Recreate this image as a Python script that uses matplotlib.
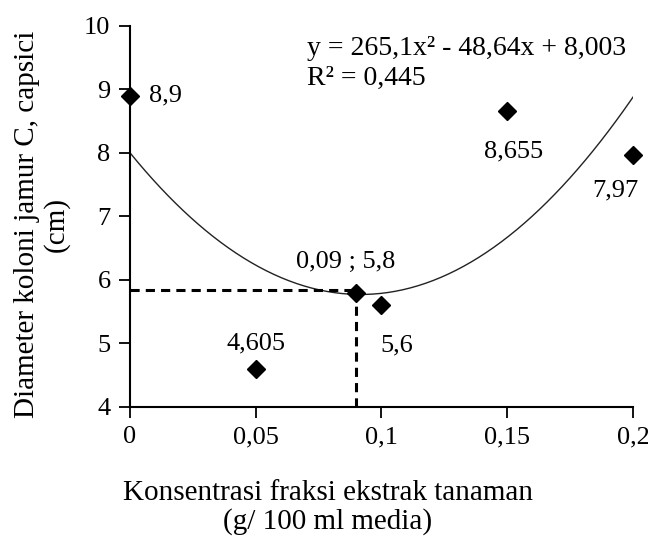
import numpy as np
import matplotlib
matplotlib.use("Agg")
import matplotlib.pyplot as plt

plt.rcParams['font.family'] = ['Liberation Serif', 'DejaVu Serif']

# data
konsentrasi = [0, 0.05, 0.09, 0.1, 0.15, 0.2]
diameter = [8.9, 4.605, 5.8, 5.6, 8.655, 7.97]
point_labels = ['8,9', '4,605', '0,09 ; 5,8', '5,6', '8,655', '7,97']
label_offsets = [(36, 0), (0, 25), (-11, 31), (15, -40), (6, -40), (-18, -36)]  # pixels

# trendline coefficients (a x^2 + b x + c)
coef = [265.1, -48.64, 8.003]
opt_x, opt_y = 0.09, 5.85

xticks = [0, 0.05, 0.1, 0.15, 0.2]
xtick_labels = ['0', '0,05', '0,1', '0,15', '0,2']
yticks = [4, 5, 6, 7, 8, 9, 10]

fig = plt.figure(figsize=(6.48, 5.41), dpi=100)
ax = fig.add_axes([0.2006, 0.2477, 0.7762, 0.7043])

xs = np.linspace(0, 0.2, 200)
ax.plot(xs, np.polyval(coef, xs), color='#222222', lw=1.0)

# dashed guide lines to the optimum
ax.plot([0, opt_x], [opt_y, opt_y], color='black', lw=2.2, ls=(0, (3, 2)))
ax.plot([opt_x, opt_x], [4, opt_y], color='black', lw=2.2, ls=(0, (3, 2)))

ax.plot(konsentrasi, diameter, ls='none', marker='D', color='black',
        markersize=9, clip_on=False, zorder=5)

for x, y, lab, off in zip(konsentrasi, diameter, point_labels, label_offsets):
    ax.annotate(lab, (x, y), xytext=off, textcoords='offset pixels',
                ha='center', va='center', fontsize=19)

fig.text(307 / 648, 1 - 55 / 541, 'y = 265,1x² - 48,64x + 8,003',
         ha='left', va='baseline', fontsize=20)
fig.text(307 / 648, 1 - 85 / 541, 'R² = 0,445',
         ha='left', va='baseline', fontsize=20)

ax.set_xlim(0, 0.2)
ax.set_ylim(4, 10)
ax.set_xticks(xticks)
ax.set_xticklabels(xtick_labels)
ax.set_yticks(yticks)
ax.tick_params(direction='out', length=8, width=1.3, labelsize=19, pad=6)

for s in ['top', 'right']:
    ax.spines[s].set_visible(False)
for s in ['left', 'bottom']:
    ax.spines[s].set_linewidth(1.5)

# axis titles, one line at a time
fig.text(328 / 648, 1 - 500 / 541, 'Konsentrasi fraksi ekstrak tanaman',
         ha='center', va='baseline', fontsize=21)
fig.text(328 / 648, 1 - 529 / 541, '(g/ 100 ml media)',
         ha='center', va='baseline', fontsize=21)
fig.text(34 / 648, 1 - 224 / 541, 'Diameter koloni jamur C, capsici',
         ha='center', va='baseline', rotation=90, fontsize=21,
         rotation_mode='anchor')
fig.text(63 / 648, 1 - 224 / 541, '(cm)',
         ha='center', va='baseline', rotation=90, fontsize=21,
         rotation_mode='anchor')

fig.savefig('out.png', dpi=100)
